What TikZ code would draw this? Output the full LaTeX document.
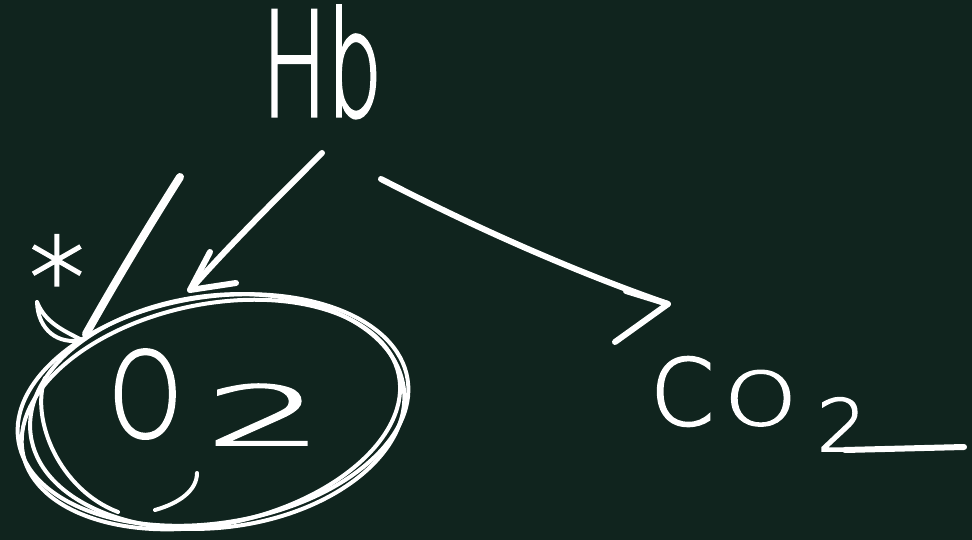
\documentclass[tikz,border=0pt]{standalone}
\usepackage{fontspec}
\newfontfamily\hand{DejaVu Sans ExtraLight}[AutoFakeBold=2.2]
\usetikzlibrary{calc}
\definecolor{board}{HTML}{10241E}
\tikzset{
  chalk/.style={draw=white, line width=6pt, line cap=round, line join=round},
  thinchalk/.style={draw=white, line width=4pt, line cap=round, line join=round},
  word/.style={text=white, inner sep=0pt, font=\hand\bfseries},
}
\begin{document}
\begin{tikzpicture}[x=1pt,y=-1pt]
\fill[board] (0,0) rectangle (972,540);
\useasboundingbox (0,0) rectangle (972,540);

% texts
\node[word, anchor=base] (hb) at (322,116)
  {\fontsize{145}{145}\selectfont\scalebox{0.6}[1]{Hb}};
\node[word, anchor=base west] (o2) at (108,437)
  {\fontsize{118}{118}\selectfont\scalebox{0.8}[1]{O}\hspace{22pt}\raisebox{-8pt}{\fontsize{82}{82}\selectfont\scalebox{2.3}[1]{2}}};
\node[word, anchor=base west] (co2) at (650,425)
  {\fontsize{92}{92}\selectfont C\hspace{10pt}\scalebox{1}[0.8]{O}\hspace{20pt}\raisebox{-26pt}{\fontsize{72}{72}\selectfont\scalebox{1.1}[1]{2}}};
\node[word, anchor=center] (star) at (57,276)
  {\fontsize{110}{110}\selectfont *};

% ring around O2 (tilted, several loops)
\coordinate (ringc) at (213,410);
\draw[thinchalk, rotate around={9:(ringc)}] (ringc) ellipse [x radius=197, y radius=113];
\draw[thinchalk, rotate around={12:(ringc)}] ($(ringc)+(-3,4)$) ellipse [x radius=192, y radius=110];
\draw[thinchalk, rotate around={7:(ringc)}] ($(ringc)+(4,2)$) ellipse [x radius=188, y radius=116];
\coordinate (in1) at (45,378);
\coordinate (in2) at (118,512);
\draw[thinchalk] (in1) .. controls (30,420) and (60,490) .. (in2);
\coordinate (nick1) at (197,473);
\coordinate (nick2) at (155,510);
\draw[thinchalk] (nick1) .. controls (197,490) and (180,503) .. (nick2);

% arrow Hb -> O2
\coordinate (a1s) at (322,153);
\coordinate (a1t) at (190,290);
\coordinate (a1l) at (210,252);
\coordinate (a1r) at (236,283);
\draw[chalk] (a1s) .. controls (270,205) and (225,250) .. (a1t);
\draw[chalk] (a1l) -- (a1t) -- (a1r);

% arrow Hb -> CO2
\coordinate (a2s) at (381,179);
\coordinate (a2t) at (668,304);
\coordinate (a2l) at (626,291);
\coordinate (a2r) at (615,342);
\draw[chalk] (a2s) .. controls (470,225) and (570,270) .. (a2t);
\draw[chalk] (a2l) -- (a2t) -- (a2r);

% tick mark
\coordinate (t1) at (180,177);
\coordinate (t2) at (86,334);
\draw[chalk, line width=8pt] (t1) .. controls (140,240) and (105,300) .. (t2);
\coordinate (lp) at (37,302);
\draw[thinchalk] (lp) .. controls (38,330) and (58,345) .. (82,340)
   .. controls (62,330) and (45,322) .. (lp);

% tail of the 2 in CO2
\coordinate (tailA) at (845,450);
\coordinate (tailB) at (964,447);
\draw[chalk] (tailA) -- (tailB);
\end{tikzpicture}
\end{document}
